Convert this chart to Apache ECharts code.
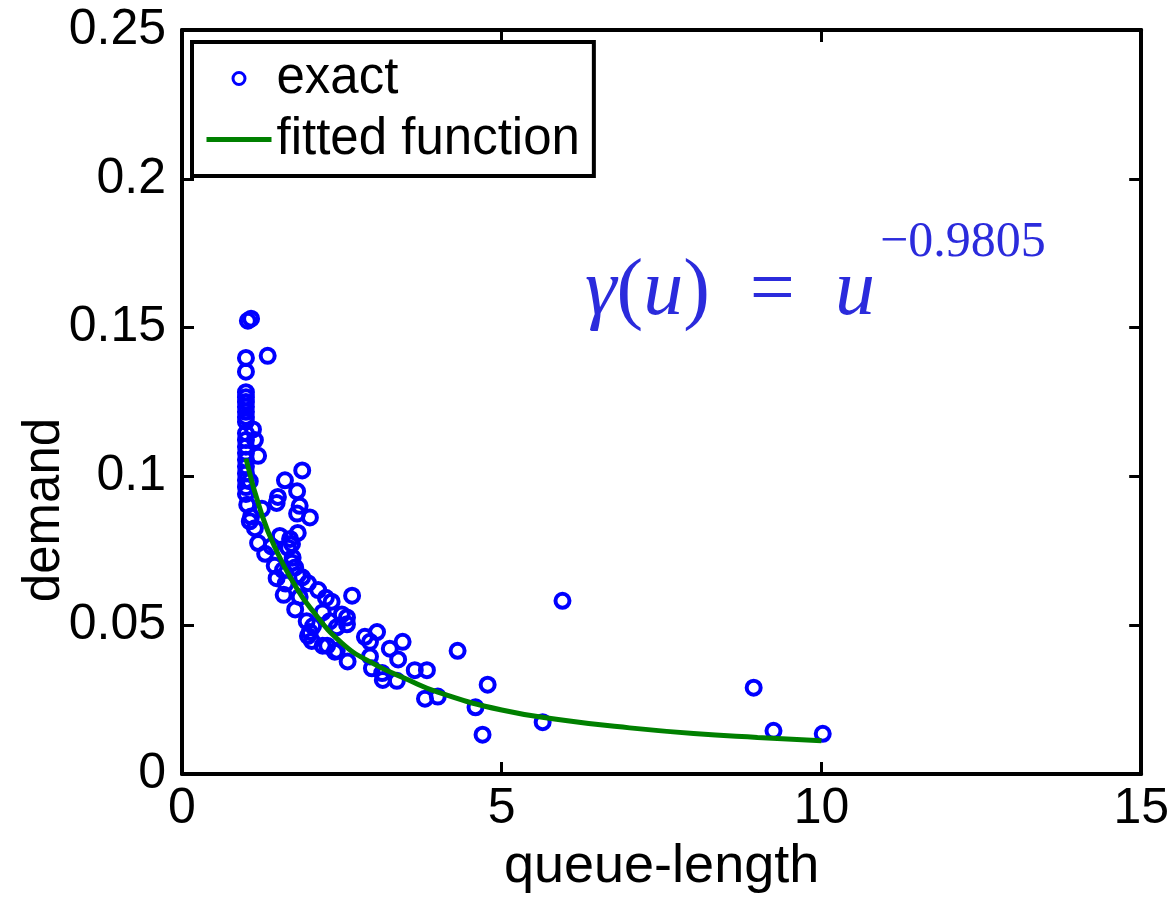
<!DOCTYPE html>
<html>
<head>
<meta charset="utf-8">
<script src="https://cdn.jsdelivr.net/npm/echarts@6/dist/echarts.min.js"></script>
<style>
html,body{margin:0;padding:0;background:#fff;}
#chart{width:1172px;height:899px;}
</style>
</head>
<body>
<div id="chart"></div>
<script>
// queue-length (x) and demand (y) of the "exact" points
var exactX = [1.03,1.08,1.34,1.00,1.00,1.00,1.00,1.00,1.00,1.00,1.00,1.00,1.11,1.00,1.00,1.14,1.00,1.19,1.00,1.00,1.00,1.00,1.00,1.06,1.00,1.00,
  1.88,1.61,1.80,1.50,1.48,1.84,1.80,2.00,1.25,1.06,1.14,1.53,1.81,1.69,1.19,1.30,1.66,1.73,1.45,1.77,1.88,1.48,1.97,2.13,1.59,1.84,2.25,2.34,2.66,
  1.77,1.95,1.97,2.05,2.31,2.42,2.58,2.58,2.27,2.42,2.59,2.86,3.05,2.94,3.25,3.45,3.38,2.94,2.97,3.13,3.14,3.36,3.64,3.83,3.80,4.00,4.31,4.78,4.59,4.70,
  5.64,5.95,8.94,9.25,10.02,1.72,1.72,1.81,2.20,2.50,2.00,2.03,2.20,2.39,1.02,1.08,1.40,1.58,1.62];
var exactY = [0.1523,0.1530,0.1405,0.1398,0.1352,0.1283,0.1266,0.1250,0.1234,0.1217,0.1200,0.1184,0.1158,0.1145,0.1122,0.1122,0.1100,0.1069,0.1079,0.1056,0.1033,0.1010,0.0987,0.0984,0.0964,0.0941,
  0.1020,0.0987,0.0950,0.0931,0.0911,0.0901,0.0875,0.0862,0.0891,0.0849,0.0826,0.0800,0.0810,0.0790,0.0776,0.0740,0.0760,0.0727,0.0700,0.0694,0.0661,0.0658,0.0641,0.0618,0.0602,0.0595,0.0592,0.0579,0.0599,
  0.0553,0.0513,0.0464,0.0497,0.0513,0.0493,0.0526,0.0503,0.0431,0.0414,0.0378,0.0461,0.0477,0.0444,0.0421,0.0444,0.0385,0.0395,0.0355,0.0339,0.0316,0.0313,0.0349,0.0349,0.0253,0.0260,0.0414,0.0300,0.0224,0.0132,
  0.0174,0.0582,0.0290,0.0145,0.0135,0.0773,0.0710,0.0668,0.0543,0.0536,0.0477,0.0447,0.0431,0.0411,0.0905,0.0865,0.0765,0.0685,0.0640];
// fitted curve
var fitX = [1.0,1.25,1.5,1.75,2.0,2.5,3.0,3.5,4.0,5.0,6.0,7.0,8.0,9.0,10.0];
var fitY = [0.106,0.087,0.074,0.064,0.056,0.044,0.037,0.032,0.0275,0.0215,0.018,0.0155,0.0136,0.0123,0.0112];
var xTicks = [0,5,10,15];
var yTicks = [0,0.05,0.1,0.15,0.2,0.25];

var FONT = '"Liberation Sans", Arial, sans-serif';
var SERIF = '"Liberation Serif", "Times New Roman", serif';
var BLUE_TXT = '#2b2bdc';
var chart = echarts.init(document.getElementById('chart'));
var scatterData = exactX.map(function(x,i){return [x, exactY[i]];});
var fitData = fitX.map(function(x,i){return [x, fitY[i]];});

var tickStyle = {show:true, inside:true, length:12, lineStyle:{color:'#000', width:3}};
var lineStyle = {show:true, onZero:false, lineStyle:{color:'#000', width:4}};

chart.setOption({
  animation:false,
  backgroundColor:'#fff',
  grid:{left:182, right:30, top:30, bottom:111, containLabel:false},
  xAxis:[{
    type:'value', min:xTicks[0], max:xTicks[xTicks.length-1], interval:5, position:'bottom',
    axisLine:lineStyle, axisTick:tickStyle, splitLine:{show:false},
    axisLabel:{color:'#000', fontSize:50, fontFamily:FONT, margin:10},
    name:'queue-length', nameLocation:'middle', nameGap:66,
    nameTextStyle:{color:'#000', fontSize:54, fontFamily:FONT}
  },{
    type:'value', min:xTicks[0], max:xTicks[xTicks.length-1], interval:5, position:'top',
    axisLine:lineStyle, axisTick:tickStyle, splitLine:{show:false}, axisLabel:{show:false}
  }],
  yAxis:[{
    type:'value', min:yTicks[0], max:yTicks[yTicks.length-1], interval:0.05, position:'left',
    axisLine:lineStyle, axisTick:tickStyle, splitLine:{show:false},
    axisLabel:{color:'#000', fontSize:50, fontFamily:FONT, margin:16}
  },{
    type:'value', min:yTicks[0], max:yTicks[yTicks.length-1], interval:0.05, position:'right',
    axisLine:lineStyle, axisTick:tickStyle, splitLine:{show:false}, axisLabel:{show:false}
  }],
  legend:{
    orient:'vertical', left:192, top:42,
    backgroundColor:'#fff', borderColor:'#000', borderWidth:4, borderRadius:0,
    padding:[11,14,11,12], itemGap:10, itemWidth:65, itemHeight:12,
    textStyle:{color:'#000', fontSize:51, fontFamily:FONT, lineHeight:50},
    data:[
      {name:'exact', itemStyle:{color:'rgba(0,0,0,0)', borderColor:'#0000ff', borderWidth:3, opacity:1}},
      {name:'fitted function', itemStyle:{color:'rgba(0,0,0,0)', borderWidth:0, opacity:0},
       lineStyle:{color:'#008000', width:5}}
    ]
  },
  graphic:[
    {type:'text', x:45, y:510, rotation:Math.PI/2,
     style:{text:'demand', fill:'#000', font:'51px '+FONT, textAlign:'center', textVerticalAlign:'middle'}},
    {type:'text', x:585, y:293, z:10,
     style:{text:'{i|γ}{r|(}{i|u}{r|)  =  }{i|u}', textVerticalAlign:'middle', fill:BLUE_TXT,
       rich:{i:{fontFamily:SERIF, fontStyle:'italic', fontSize:80, fill:BLUE_TXT},
             r:{fontFamily:SERIF, fontSize:80, fill:BLUE_TXT}}}},
    {type:'text', x:880, y:243, z:10,
     style:{text:'−0.9805', fill:BLUE_TXT, font:'50px '+SERIF, textVerticalAlign:'middle'}}
  ],
  series:[{
    name:'exact', type:'scatter', data:scatterData, symbol:'circle', symbolSize:14,
    itemStyle:{color:'rgba(0,0,0,0)', borderColor:'#0000ff', borderWidth:4, opacity:1}
  },{
    name:'fitted function', type:'line', data:fitData, smooth:true, symbol:'none',
    lineStyle:{color:'#008000', width:5}, itemStyle:{color:'#008000'}
  }]
});
</script>
</body>
</html>
